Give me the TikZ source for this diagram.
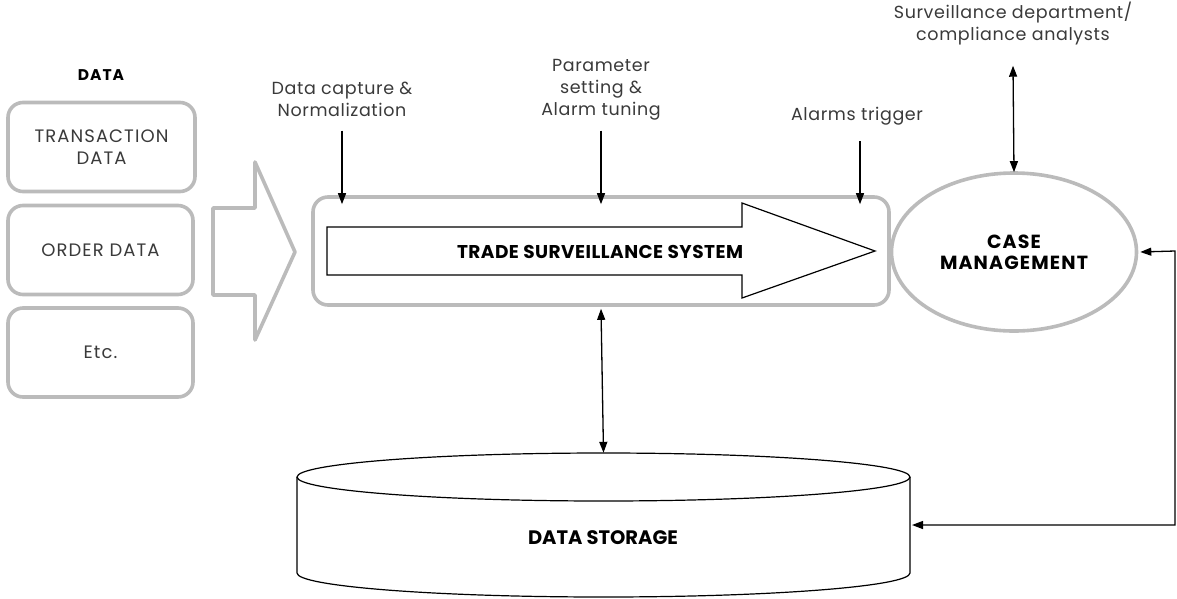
\documentclass[tikz,border=0pt]{standalone}
\usepackage{fontspec}
\setmainfont{Poppins}
\usetikzlibrary{shapes.geometric,arrows.meta,calc}
\definecolor{frame}{HTML}{BBBBBB}
\definecolor{ink}{HTML}{3A3A3A}
\tikzset{
  graybox/.style={draw=frame, line width=3.6pt, rounded corners=15pt, fill=white},
  grayline/.style={draw=frame, line width=3.6pt, line join=round},
  label/.style={text=ink, align=center, inner sep=0pt,
    font=\fontsize{17.5}{22}\selectfont\addfontfeature{LetterSpace=3.5}},
  boxtext/.style={text=ink, align=center,
    font=\fontsize{18}{22}\selectfont\addfontfeature{LetterSpace=6}},
  heavy/.style={text=black, align=center, inner sep=0pt,
    font=\fontsize{18.5}{21}\selectfont\bfseries\addfontfeature{LetterSpace=3.5}},
  arr/.style={line width=1.3pt, -{Triangle[length=11pt,width=8pt]}},
  biarr/.style={line width=1.3pt, {Triangle[length=11pt,width=8pt]}-{Triangle[length=11pt,width=8pt]}},
}
\begin{document}
\begin{tikzpicture}[x=1pt,y=-1pt]
\useasboundingbox (0,0) rectangle (1177,598);

% input data sources
\node[heavy, font=\fontsize{15.5}{18}\selectfont\bfseries\addfontfeature{LetterSpace=6}] (hdr) at (101,75) {DATA};
\node[graybox, boxtext, minimum width=187, minimum height=89] (trans) at (101.5,147) {TRANSACTION\\DATA};
\node[graybox, boxtext, minimum width=185, minimum height=89] (order) at (100.5,250) {ORDER DATA};
\node[graybox, boxtext, minimum width=185, minimum height=89] (etc) at (100.5,352.5) {Etc.};

% hollow feed arrow
\draw[grayline] (213,208) -- (255,208) -- (255,162) -- (295,252) -- (255,340) -- (255,295) -- (213,295) -- cycle;

% surveillance system frame with its flow arrow
\node[graybox, minimum width=576, minimum height=108] (tss) at (601,251) {};
\draw[line width=1.2pt, line join=miter, fill=white]
  (327,227) -- (742,227) -- (742,203) -- (875,251) -- (742,298) -- (742,275) -- (327,275) -- cycle;
\node[heavy, font=\fontsize{18.5}{21}\selectfont\bfseries\addfontfeature{LetterSpace=2.5}] (tsstext) at (600,252) {TRADE SURVEILLANCE SYSTEM};

% case management
\node[ellipse, draw=frame, line width=3.6pt, fill=white, minimum width=245, minimum height=158,
      heavy, font=\fontsize{19}{21}\selectfont\bfseries\addfontfeature{LetterSpace=6}, inner sep=0pt] (cm) at (1014,252) {CASE\\MANAGEMENT};

% data storage cylinder
\draw[line width=1.2pt, fill=white] (297,477) -- (297,573)
  arc[start angle=180, end angle=0, x radius=306.5, y radius=24] -- (910,477);
\draw[line width=1.2pt] (603.5,477) ellipse [x radius=306.5, y radius=24];
\node[inner sep=0pt, minimum width=613, minimum height=120] (ds) at (603.5,513) {};
\node[heavy, font=\fontsize{19.5}{21}\selectfont\bfseries] (dstext) at (603,538) {DATA STORAGE};
\coordinate (dsin) at (910,525);

% process labels
\node[label] (cap) at (342,99) {Data capture \&\\Normalization};
\node[label] (par) at (601,90) {Parameter\\setting \&\\Alarm tuning};
\node[label] (alm) at (857,116) {Alarms trigger};
\node[label] (dept) at (1013,24) {Surveillance department/\\compliance analysts};

% connectors
\draw[arr] ([yshift=-14pt]cap.south) -- ([yshift=-9pt]cap.south |- tss.north);
\draw[arr] ([yshift=-10pt]par.south) -- ([yshift=-9pt]par.south |- tss.north);
\draw[arr] ([yshift=-16pt,xshift=3pt]alm.south) -- ([yshift=-9pt,xshift=3pt]alm.south |- tss.north);
\draw[biarr] ([yshift=-2pt]tss.south) -- (ds.north);
\draw[biarr] ([yshift=-20pt]dept.south) -- ([yshift=-1pt]cm.north);
\draw[biarr] ([xshift=2pt]cm.east) -- (1175,251) -- (1175,525) -- ([xshift=2pt]dsin);
\end{tikzpicture}
\end{document}
